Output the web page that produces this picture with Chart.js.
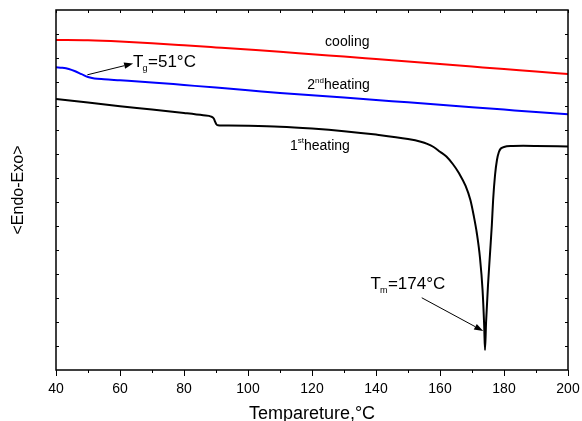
<!DOCTYPE html>
<html>
<head>
<meta charset="utf-8">
<script src="https://cdn.jsdelivr.net/npm/chart.js@4"></script>
<style>
  body { margin: 0; background: #fff; }
</style>
</head>
<body>
<canvas id="dscChart" width="582" height="421"></canvas>
<script>
// temperature (°C) and heat flow signal (arbitrary units)
var coolingTemp = [40, 50, 60, 70, 80, 90, 100, 110, 120, 130, 140, 150, 160, 170, 180, 190, 200];
var coolingSignal = [13.75, 13.738, 13.688, 13.613, 13.529, 13.442, 13.354, 13.263, 13.158, 13.058, 12.954, 12.85, 12.746, 12.642, 12.538, 12.438, 12.333];

var heating2Temp = [40, 42, 44, 46, 48, 50, 52, 55, 60, 70, 80, 90, 100, 110, 120, 130, 140, 150, 160, 170, 180, 190, 200];
var heating2Signal = [12.613, 12.592, 12.542, 12.446, 12.325, 12.208, 12.146, 12.113, 12.071, 11.983, 11.875, 11.767, 11.658, 11.542, 11.446, 11.35, 11.25, 11.154, 11.054, 10.95, 10.85, 10.75, 10.654];

var heating1Temp = [40, 50, 60, 70, 80, 86, 88.5, 89.3, 89.7, 90.1, 90.6, 92, 100, 110, 120, 130, 140, 150, 154, 156, 158, 160, 162, 164, 166, 168, 169.5, 170.5, 171.5, 172.5, 173.3, 173.8, 174.06, 174.4, 175, 175.6, 176.2, 176.6, 177.2, 177.8, 178.4, 179, 180, 182, 186, 190, 200];
var heating1Signal = [11.292, 11.142, 10.992, 10.858, 10.712, 10.613, 10.558, 10.479, 10.354, 10.238, 10.196, 10.188, 10.175, 10.138, 10.058, 9.95, 9.808, 9.625, 9.513, 9.425, 9.292, 9.096, 8.896, 8.583, 8.188, 7.667, 7.083, 6.458, 5.708, 4.667, 3.333, 1.875, 0.833, 2.0, 3.542, 4.792, 6.042, 7.083, 8.125, 8.75, 9.083, 9.229, 9.292, 9.33, 9.34, 9.335, 9.313];

var xTicks = [40, 60, 80, 100, 120, 140, 160, 180, 200];

function toPoints(temps, vals) {
  return temps.map(function (t, i) { return { x: t, y: vals[i] }; });
}

Chart.defaults.font.family = "'Liberation Sans', Arial, sans-serif";
Chart.defaults.color = "#000";

function arrow(ctx, x1, y1, x2, y2) {
  var ang = Math.atan2(y2 - y1, x2 - x1);
  var len = 9, w = 3.2;
  ctx.beginPath();
  ctx.moveTo(x1, y1);
  ctx.lineTo(x2 - Math.cos(ang) * len, y2 - Math.sin(ang) * len);
  ctx.stroke();
  ctx.beginPath();
  ctx.moveTo(x2, y2);
  ctx.lineTo(x2 - Math.cos(ang) * len - Math.sin(ang) * w, y2 - Math.sin(ang) * len + Math.cos(ang) * w);
  ctx.lineTo(x2 - Math.cos(ang) * len + Math.sin(ang) * w, y2 - Math.sin(ang) * len - Math.cos(ang) * w);
  ctx.closePath();
  ctx.fill();
}

// frame, inner/minor ticks and the text labels on the plot
var decorations = {
  id: "decorations",
  afterDraw: function (chart) {
    var ctx = chart.ctx;
    var a = chart.chartArea;
    var x = chart.scales.x, y = chart.scales.y;
    ctx.save();
    ctx.strokeStyle = "#000";
    ctx.fillStyle = "#000";
    ctx.lineWidth = 1.5;
    ctx.strokeRect(a.left, a.top, a.right - a.left, a.bottom - a.top);

    ctx.lineWidth = 1;
    ctx.beginPath();
    for (var t = 40; t <= 200; t += 10) {
      var px = Math.round(x.getPixelForValue(t)) + 0.5;
      if (t % 20 !== 0) {
        ctx.moveTo(px, a.bottom);
        ctx.lineTo(px, a.bottom + 3);
      }
      ctx.moveTo(px, a.top);
      ctx.lineTo(px, a.top + 3);
    }
    for (var v = 1; v < 15; v++) {
      var py = Math.round(y.getPixelForValue(v)) + 0.5;
      ctx.moveTo(a.left, py);
      ctx.lineTo(a.left + 3, py);
      ctx.moveTo(a.right, py);
      ctx.lineTo(a.right - 3, py);
    }
    ctx.stroke();

    var F = "'Liberation Sans', Arial, sans-serif";
    ctx.textBaseline = "middle";
    ctx.textAlign = "left";

    // cooling
    ctx.font = "14px " + F;
    ctx.fillText("cooling", x.getPixelForValue(124.1), y.getPixelForValue(13.68));

    // 2nd heating
    var hx = x.getPixelForValue(118.5), hy = y.getPixelForValue(11.85);
    ctx.fillText("2", hx, hy);
    hx += ctx.measureText("2").width;
    ctx.font = "8px " + F;
    ctx.fillText("nd", hx, hy - 5);
    hx += ctx.measureText("nd").width;
    ctx.font = "14px " + F;
    ctx.fillText("heating", hx, hy);

    // 1st heating
    hx = x.getPixelForValue(113.1); hy = y.getPixelForValue(9.33);
    ctx.fillText("1", hx, hy);
    hx += ctx.measureText("1").width;
    ctx.font = "8px " + F;
    ctx.fillText("st", hx, hy - 5);
    hx += ctx.measureText("st").width;
    ctx.font = "14px " + F;
    ctx.fillText("heating", hx, hy);

    // Tg and Tm
    ctx.textBaseline = "alphabetic";
    function temp(sub, rest, tx, ty) {
      var px0 = x.getPixelForValue(tx), py0 = y.getPixelForValue(ty);
      ctx.font = "17px " + F;
      ctx.fillText("T", px0, py0);
      px0 += ctx.measureText("T").width - 1;
      ctx.font = "9px " + F;
      ctx.fillText(sub, px0, py0 + 4);
      px0 += ctx.measureText(sub).width + 0.5;
      ctx.font = "17px " + F;
      ctx.fillText(rest, px0, py0);
    }
    temp("g", "=51°C", 64.1, 12.64);
    temp("m", "=174°C", 138.3, 3.36);

    arrow(ctx, x.getPixelForValue(49.8), y.getPixelForValue(12.3), x.getPixelForValue(64.1), y.getPixelForValue(12.77));
    arrow(ctx, x.getPixelForValue(154.3), y.getPixelForValue(3.01), x.getPixelForValue(173.5), y.getPixelForValue(1.625));
    ctx.restore();
  }
};

new Chart(document.getElementById("dscChart"), {
  type: "line",
  data: {
    datasets: [
      {
        label: "cooling",
        data: toPoints(coolingTemp, coolingSignal),
        borderColor: "#ff0000",
        borderWidth: 2,
        pointRadius: 0,
        cubicInterpolationMode: "monotone",
      },
      {
        label: "2nd heating",
        data: toPoints(heating2Temp, heating2Signal),
        borderColor: "#0000ff",
        borderWidth: 2,
        pointRadius: 0,
        cubicInterpolationMode: "monotone",
      },
      {
        label: "1st heating",
        data: toPoints(heating1Temp, heating1Signal),
        borderColor: "#000000",
        borderWidth: 2,
        pointRadius: 0,
        cubicInterpolationMode: "monotone",
      },
    ],
  },
  options: {
    responsive: false,
    animation: false,
    devicePixelRatio: 1,
    layout: { padding: { left: 6, right: 14, top: 10, bottom: 0 } },
    plugins: {
      legend: { display: false },
      tooltip: { enabled: false },
    },
    scales: {
      x: {
        type: "linear",
        min: 40,
        max: 200,
        afterBuildTicks: function (scale) {
          scale.ticks = xTicks.map(function (v) { return { value: v }; });
        },
        ticks: { color: "#000", font: { size: 14 }, padding: 5, maxRotation: 0 },
        grid: { drawOnChartArea: false, color: "#000", tickLength: 6, lineWidth: 1 },
        border: { display: false },
        title: {
          display: true,
          text: "Tempareture,°C",
          color: "#000",
          font: { size: 18, lineHeight: 1 },
          padding: { top: 0, bottom: -2 },
        },
        afterFit: function (scale) {
          scale.height = 51;
          scale.paddingLeft = 0;
          scale.paddingRight = 0;
        },
      },
      y: {
        type: "linear",
        min: 0,
        max: 15,
        ticks: { display: false },
        grid: { display: false },
        border: { display: false },
        title: {
          display: true,
          text: "<Endo-Exo>",
          color: "#000",
          font: { size: 16, lineHeight: 1 },
          padding: { top: 5, bottom: 0 },
        },
        afterFit: function (scale) { scale.width = 50; },
      },
    },
  },
  plugins: [decorations],
});
</script>
</body>
</html>
